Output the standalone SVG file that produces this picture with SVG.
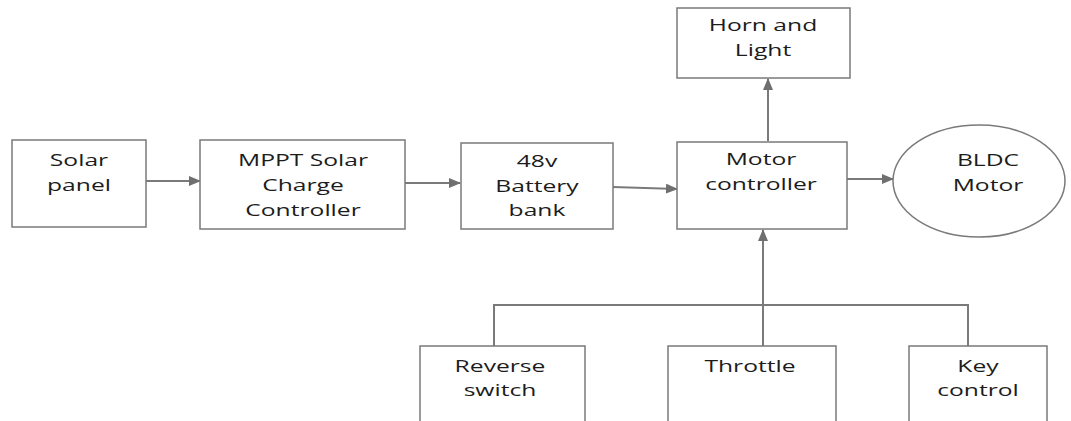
<svg xmlns="http://www.w3.org/2000/svg" width="1071" height="421" viewBox="0 0 1071 421">
<defs>
<marker id="ah" markerWidth="12" markerHeight="10" refX="11" refY="5" orient="auto" markerUnits="userSpaceOnUse">
<path d="M0,0 L12,5 L0,10 Z" fill="#6f6f6f"/>
</marker>
<style>
.box{fill:#fff;stroke:#7a7a7a;stroke-width:1.5}
.ln{fill:none;stroke:#7a7a7a;stroke-width:2}
.t{font-family:"Open Sans","Liberation Sans",sans-serif;font-size:17px;fill:#1c1c1c;text-anchor:middle}
</style>
</defs>
<rect width="1071" height="421" fill="#fff"/>
<g id="connectors">
<line class="ln" x1="145" y1="181" x2="200" y2="181" marker-end="url(#ah)"/>
<line class="ln" x1="405" y1="183" x2="460" y2="183" marker-end="url(#ah)"/>
<line class="ln" x1="613" y1="187" x2="677" y2="189" marker-end="url(#ah)"/>
<line class="ln" x1="847" y1="179" x2="893" y2="179" marker-end="url(#ah)"/>
<line class="ln" x1="768" y1="141" x2="768" y2="79" marker-end="url(#ah)"/>
<line class="ln" x1="763" y1="346" x2="763" y2="230" marker-end="url(#ah)"/>
<polyline class="ln" points="494,346 494,305 968,305 968,346"/>
</g>
<g id="solar-panel">
<rect class="box" x="12" y="140" width="134" height="87"/>
<text class="t" transform="translate(79,166) scale(1.45,1)">Solar</text>
<text class="t" transform="translate(79,191) scale(1.45,1)">panel</text>
</g>
<g id="mppt">
<rect class="box" x="200" y="140" width="205" height="89"/>
<text class="t" transform="translate(303,166) scale(1.45,1)">MPPT Solar</text>
<text class="t" transform="translate(303,191) scale(1.45,1)">Charge</text>
<text class="t" transform="translate(303,216) scale(1.45,1)">Controller</text>
</g>
<g id="battery">
<rect class="box" x="461" y="143" width="152" height="86"/>
<text class="t" transform="translate(537,167) scale(1.45,1)">48v</text>
<text class="t" transform="translate(537,192) scale(1.45,1)">Battery</text>
<text class="t" transform="translate(537,216) scale(1.45,1)">bank</text>
</g>
<g id="motor-controller">
<rect class="box" x="677" y="142" width="170" height="87"/>
<text class="t" transform="translate(761,165) scale(1.45,1)">Motor</text>
<text class="t" transform="translate(761,190) scale(1.45,1)">controller</text>
</g>
<g id="bldc">
<ellipse class="box" cx="979" cy="181" rx="86" ry="56"/>
<text class="t" transform="translate(988,166) scale(1.45,1)">BLDC</text>
<text class="t" transform="translate(988,191) scale(1.45,1)">Motor</text>
</g>
<g id="horn">
<rect class="box" x="677" y="8" width="173" height="70"/>
<text class="t" transform="translate(763,31) scale(1.45,1)">Horn and</text>
<text class="t" transform="translate(763,56) scale(1.45,1)">Light</text>
</g>
<g id="reverse">
<rect class="box" x="420" y="346" width="165" height="80"/>
<text class="t" transform="translate(500,372) scale(1.45,1)">Reverse</text>
<text class="t" transform="translate(500,396) scale(1.45,1)">switch</text>
</g>
<g id="throttle">
<rect class="box" x="668" y="346" width="168" height="80"/>
<text class="t" transform="translate(750,372) scale(1.45,1)">Throttle</text>
</g>
<g id="key">
<rect class="box" x="909" y="346" width="138" height="80"/>
<text class="t" transform="translate(978,372) scale(1.45,1)">Key</text>
<text class="t" transform="translate(978,396) scale(1.45,1)">control</text>
</g>
</svg>
